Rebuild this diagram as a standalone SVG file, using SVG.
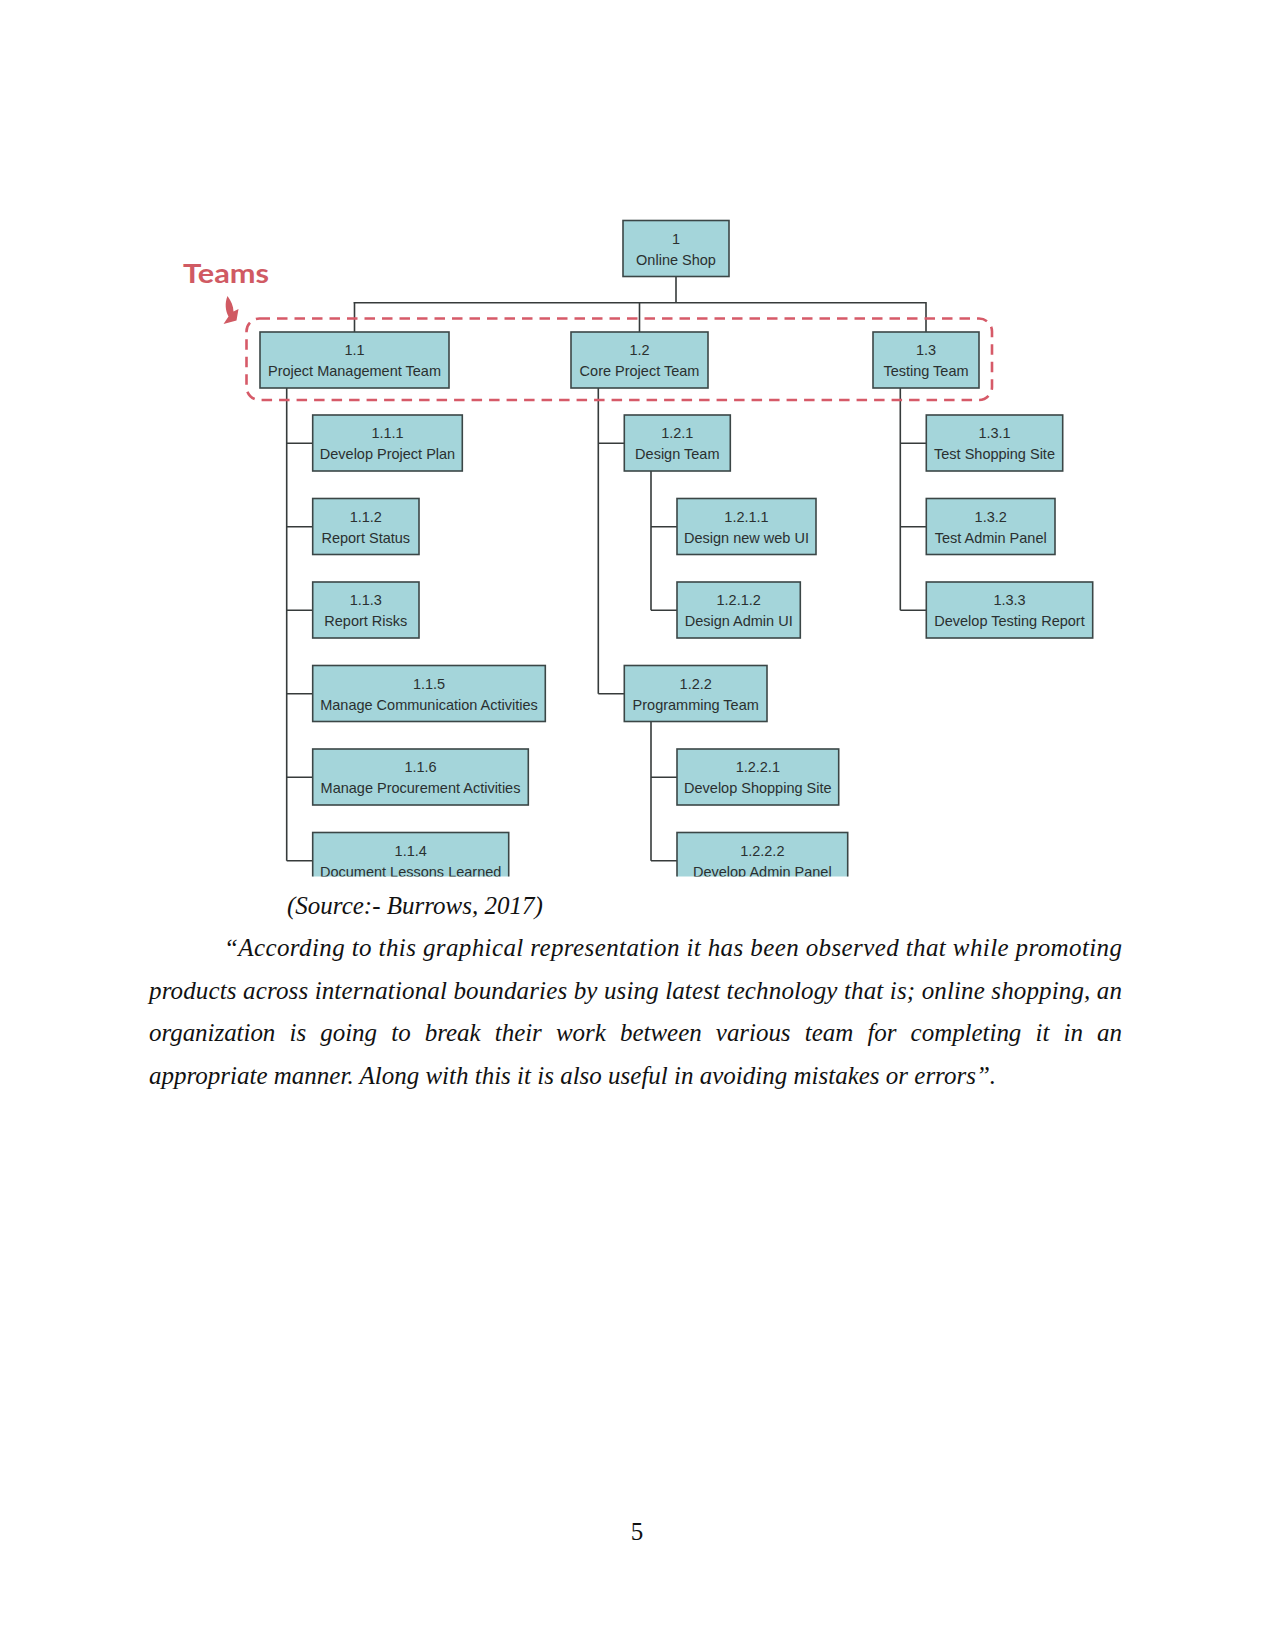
<svg xmlns="http://www.w3.org/2000/svg" width="1275" height="1650" viewBox="0 0 1275 1650">
<defs>
<style>
.box{fill:#a4d5da;stroke:#3b4646;stroke-width:1.6}
.t{font-family:"Liberation Sans",Arial,sans-serif;font-size:14.5px;fill:#2a3030;text-anchor:middle}
.c{fill:none;stroke:#363b3b;stroke-width:1.6}
.p{font-family:"Liberation Serif","Times New Roman",serif;font-style:italic;font-size:25px;fill:#111}
</style>
<clipPath id="clip"><rect x="0" y="0" width="1275" height="876.5"/></clipPath>
</defs>
<rect width="1275" height="1650" fill="#fff"/>
<g clip-path="url(#clip)">
<g id="connectors">
<path class="c" d="M676 276.5V302.7M353.5 302.7H926.8M354.5 302.7V332M639.5 302.7V332M926 302.7V332"/>
<path class="c" d="M286.7 388V860.8M286.7 443.3H312.7M286.7 526.8H312.7M286.7 610.3H312.7M286.7 693.8H312.7M286.7 777.3H312.7M286.7 860.8H312.7"/>
<path class="c" d="M598.3 388V693.8M598.3 443.3H624.3M598.3 693.8H624.3"/>
<path class="c" d="M651 471V610.3M651 526.8H677M651 610.3H677"/>
<path class="c" d="M651 721.5V860.8M651 777.3H677M651 860.8H677"/>
<path class="c" d="M900.3 388V610.3M900.3 443.3H926.3M900.3 526.8H926.3M900.3 610.3H926.3"/>
</g>
<g id="n1"><rect class="box" x="623" y="220.5" width="106" height="56"/><text class="t" x="676" y="243.8">1</text><text class="t" x="676" y="264.8">Online Shop</text></g>
<g id="n1_1"><rect class="box" x="260" y="332" width="189" height="56"/><text class="t" x="354.5" y="355.3">1.1</text><text class="t" x="354.5" y="376.3">Project Management Team</text></g>
<g id="n1_2"><rect class="box" x="571" y="332" width="137" height="56"/><text class="t" x="639.5" y="355.3">1.2</text><text class="t" x="639.5" y="376.3">Core Project Team</text></g>
<g id="n1_3"><rect class="box" x="873" y="332" width="106" height="56"/><text class="t" x="926" y="355.3">1.3</text><text class="t" x="926" y="376.3">Testing Team</text></g>
<g id="n1_1_1"><rect class="box" x="312.7" y="415" width="149.6" height="56"/><text class="t" x="387.5" y="438.3">1.1.1</text><text class="t" x="387.5" y="459.3">Develop Project Plan</text></g>
<g id="n1_1_2"><rect class="box" x="312.7" y="498.5" width="106.3" height="56"/><text class="t" x="365.8" y="521.8">1.1.2</text><text class="t" x="365.8" y="542.8">Report Status</text></g>
<g id="n1_1_3"><rect class="box" x="312.7" y="582" width="106.3" height="56"/><text class="t" x="365.8" y="605.3">1.1.3</text><text class="t" x="365.8" y="626.3">Report Risks</text></g>
<g id="n1_1_5"><rect class="box" x="312.7" y="665.5" width="232.6" height="56"/><text class="t" x="429" y="688.8">1.1.5</text><text class="t" x="429" y="709.8">Manage Communication Activities</text></g>
<g id="n1_1_6"><rect class="box" x="312.7" y="749" width="215.6" height="56"/><text class="t" x="420.5" y="772.3">1.1.6</text><text class="t" x="420.5" y="793.3">Manage Procurement Activities</text></g>
<g id="n1_1_4"><rect class="box" x="312.7" y="832.5" width="196" height="56"/><text class="t" x="410.7" y="855.8">1.1.4</text><text class="t" x="410.7" y="876.8">Document Lessons Learned</text></g>
<g id="n1_2_1"><rect class="box" x="624.3" y="415" width="106" height="56"/><text class="t" x="677.3" y="438.3">1.2.1</text><text class="t" x="677.3" y="459.3">Design Team</text></g>
<g id="n1_2_1_1"><rect class="box" x="677" y="498.5" width="139" height="56"/><text class="t" x="746.5" y="521.8">1.2.1.1</text><text class="t" x="746.5" y="542.8">Design new web UI</text></g>
<g id="n1_2_1_2"><rect class="box" x="677" y="582" width="123.3" height="56"/><text class="t" x="738.7" y="605.3">1.2.1.2</text><text class="t" x="738.7" y="626.3">Design Admin UI</text></g>
<g id="n1_2_2"><rect class="box" x="624.3" y="665.5" width="142.7" height="56"/><text class="t" x="695.7" y="688.8">1.2.2</text><text class="t" x="695.7" y="709.8">Programming Team</text></g>
<g id="n1_2_2_1"><rect class="box" x="677" y="749" width="161.7" height="56"/><text class="t" x="757.8" y="772.3">1.2.2.1</text><text class="t" x="757.8" y="793.3">Develop Shopping Site</text></g>
<g id="n1_2_2_2"><rect class="box" x="677" y="832.5" width="170.7" height="56"/><text class="t" x="762.3" y="855.8">1.2.2.2</text><text class="t" x="762.3" y="876.8">Develop Admin Panel</text></g>
<g id="n1_3_1"><rect class="box" x="926.3" y="415" width="136.4" height="56"/><text class="t" x="994.5" y="438.3">1.3.1</text><text class="t" x="994.5" y="459.3">Test Shopping Site</text></g>
<g id="n1_3_2"><rect class="box" x="926.3" y="498.5" width="128.7" height="56"/><text class="t" x="990.7" y="521.8">1.3.2</text><text class="t" x="990.7" y="542.8">Test Admin Panel</text></g>
<g id="n1_3_3"><rect class="box" x="926.3" y="582" width="166.4" height="56"/><text class="t" x="1009.5" y="605.3">1.3.3</text><text class="t" x="1009.5" y="626.3">Develop Testing Report</text></g>
</g>
<g id="teams">
<rect x="246.5" y="318.5" width="745.5" height="81.5" rx="13" ry="13" fill="none" stroke="#d65a68" stroke-width="2.6" stroke-dasharray="10.5 7"/>
<text x="183" y="283" font-family="Lato,'Liberation Sans',sans-serif" font-weight="700" font-size="27" fill="#d05a63" textLength="86" lengthAdjust="spacingAndGlyphs">Teams</text>
<path d="M227.5 296 C231 301 233.5 306 233.5 311.5 L238.5 309 L236.5 320.5 L223.5 324 L228.5 316.5 C225.5 311 224.5 303 227.5 296 Z" fill="#d05a63"/>
</g>
<g id="caption">
<text class="p" x="287" y="914">(Source:- Burrows, 2017)</text>
<text class="p" x="224" y="956" textLength="898" lengthAdjust="spacing">“According to this graphical representation it has been observed that while promoting</text>
<text class="p" x="149" y="998.5" textLength="973" lengthAdjust="spacing">products across international boundaries by using latest technology that is; online shopping, an</text>
<text class="p" x="149" y="1041" word-spacing="8" textLength="973" lengthAdjust="spacing">organization is going to break their work between various team for completing it in an</text>
<text class="p" x="149" y="1084">appropriate manner. Along with this it is also useful in avoiding mistakes or errors”.</text>
<text x="637" y="1540" font-family="'Liberation Serif','Times New Roman',serif" font-size="25" fill="#111" text-anchor="middle">5</text>
</g>
</svg>
